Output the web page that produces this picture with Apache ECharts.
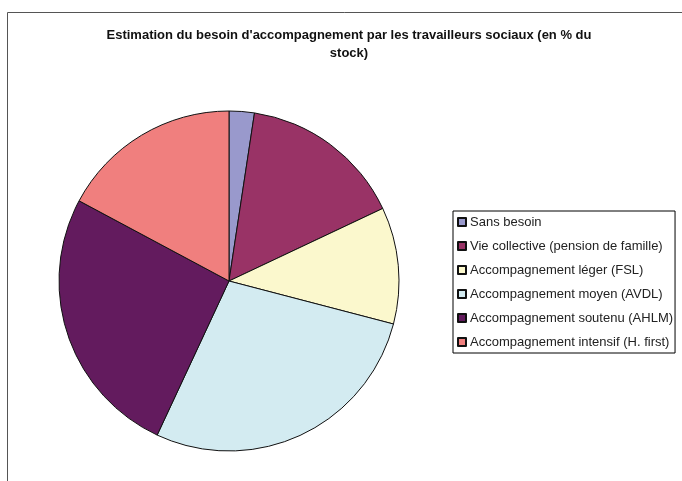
<!DOCTYPE html>
<html>
<head>
<meta charset="utf-8">
<script src="https://cdn.jsdelivr.net/npm/echarts@6/dist/echarts.min.js"></script>
<style>
html, body { margin: 0; padding: 0; background: #fff; }
#chart { width: 682px; height: 481px; }
</style>
</head>
<body>
<div id="chart"></div>
<script>
var categories = [
    'Sans besoin',
    'Vie collective (pension de famille)',
    'Accompagnement léger (FSL)',
    'Accompagnement moyen (AVDL)',
    'Accompagnement soutenu (AHLM)',
    'Accompagnement intensif (H. first)'
];
var shares = [2.4, 15.6, 11.1, 27.9, 25.9, 17.2];
var colors = ['#9999cc', '#993366', '#fbf8cd', '#d3ebf1', '#631b5e', '#f07f7e'];

var chart = echarts.init(document.getElementById('chart'));

var pieData = [];
categories.forEach(function (name, i) {
    pieData.push({name: name, value: shares[i], itemStyle: {color: colors[i]}});
});

var option = {
    backgroundColor: '#fff',
    animation: false,
    title: {
        text: "Estimation du besoin d'accompagnement par les travailleurs sociaux (en % du\nstock)",
        left: 349,
        top: 26,
        padding: 0,
        textAlign: 'center',
        textStyle: {
            fontFamily: 'Liberation Sans',
            fontSize: 13,
            fontWeight: 'bold',
            color: '#111',
            lineHeight: 18
        }
    },
    legend: {
        orient: 'vertical',
        left: 453,
        top: 211,
        width: 226,
        padding: [4, 2, 4, 4],
        borderColor: '#000',
        borderWidth: 1,
        itemWidth: 8,
        itemHeight: 8,
        itemGap: 10,
        icon: 'rect',
        textStyle: {
            fontFamily: 'Liberation Sans',
            fontSize: 13,
            lineHeight: 14,
            color: '#222',
            padding: [0, 0, 0, -1]
        },
        data: categories
    },
    graphic: [{
        type: 'polyline',
        shape: {points: [[7.5, 481], [7.5, 12.5], [682, 12.5]]},
        style: {stroke: '#555', lineWidth: 1, fill: null}
    }],
    series: [{
        type: 'pie',
        center: [229, 281],
        radius: 170,
        startAngle: 90,
        clockwise: true,
        label: {show: false},
        labelLine: {show: false},
        itemStyle: {borderColor: '#111', borderWidth: 1},
        emphasis: {disabled: true},
        data: pieData
    }]
};
chart.setOption(option);
</script>
</body>
</html>
